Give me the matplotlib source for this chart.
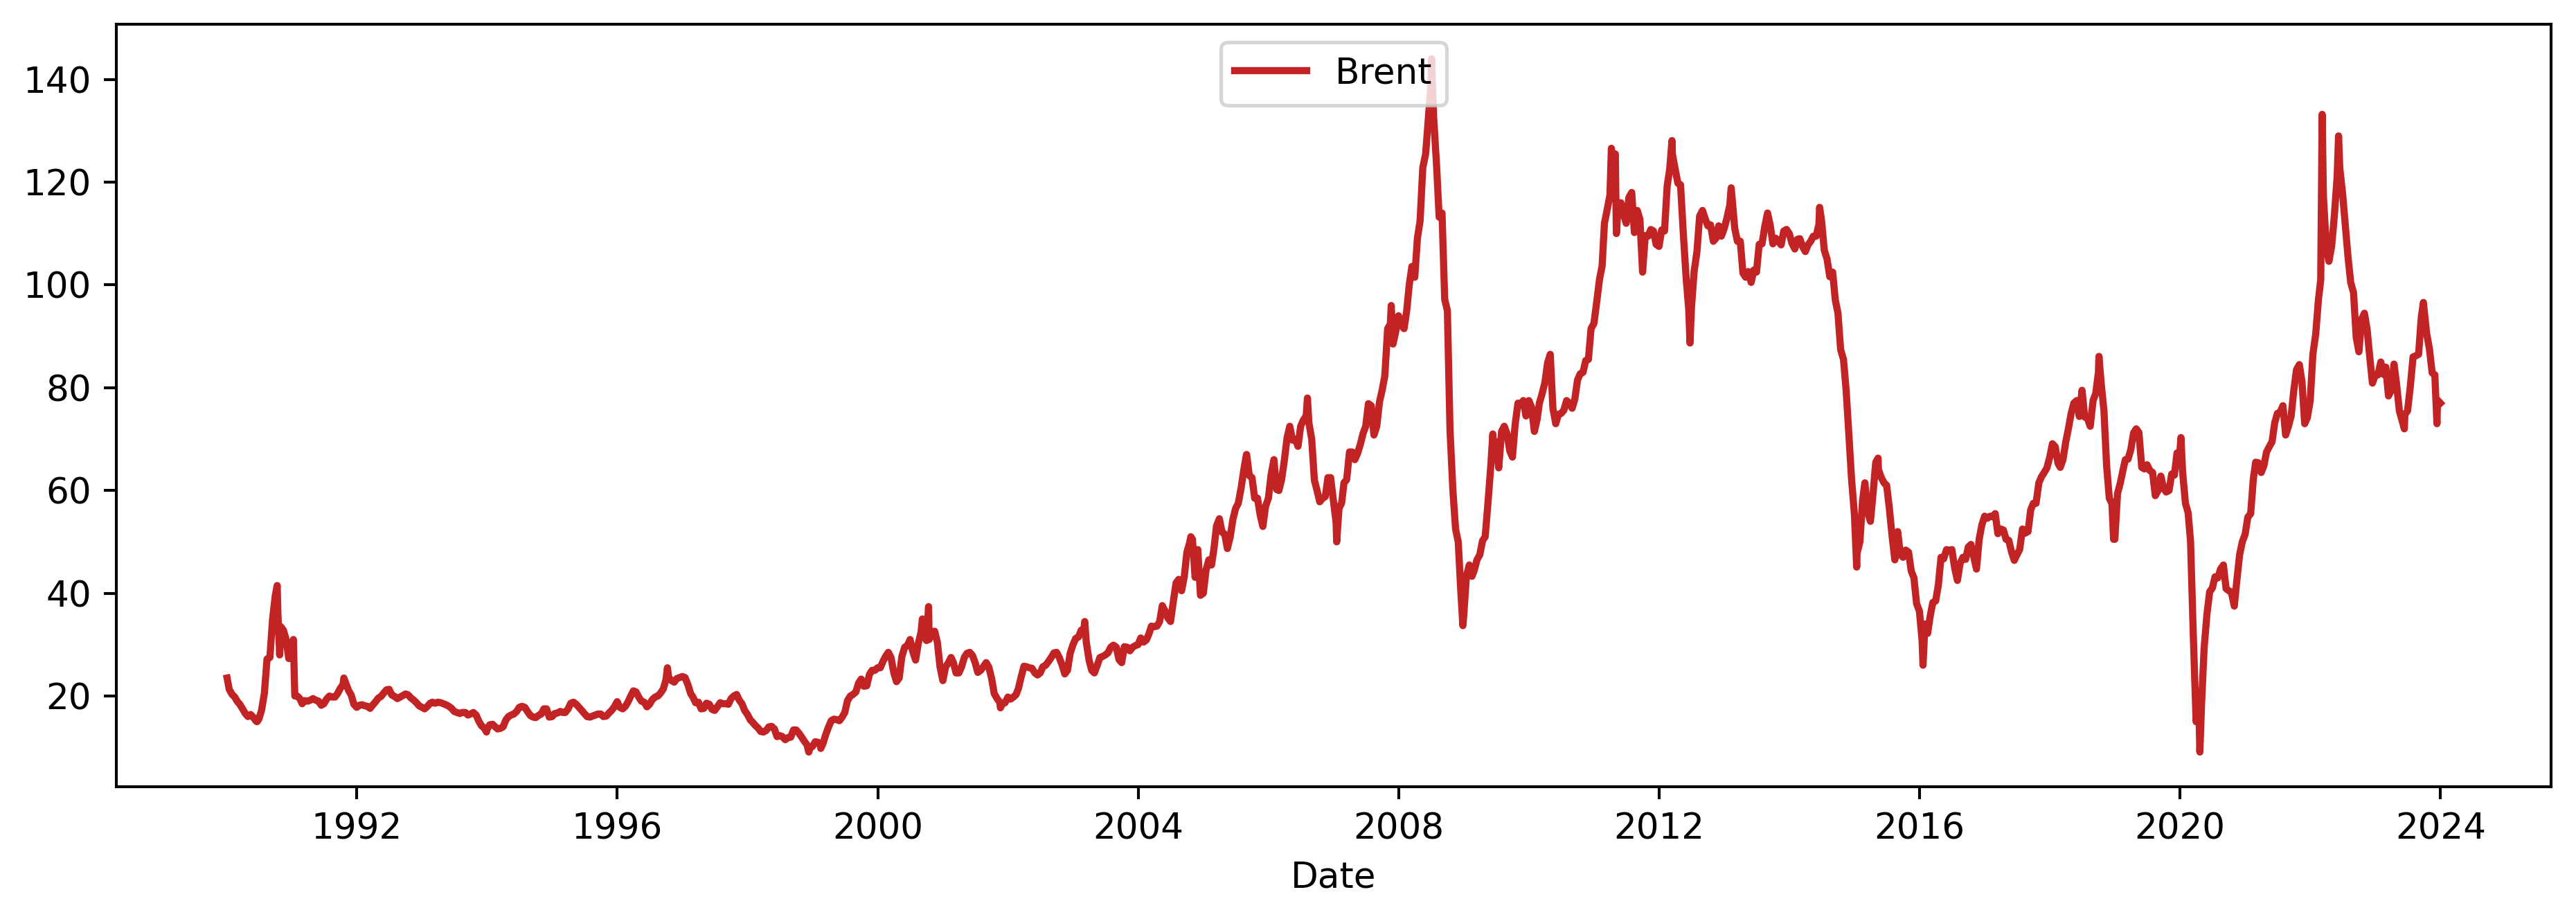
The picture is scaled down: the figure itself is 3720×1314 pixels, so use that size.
import numpy as np
import pandas as pd
import matplotlib
matplotlib.use("Agg")
import matplotlib.pyplot as plt
import matplotlib.dates as mdates

# Brent price, USD/bbl - mid-month levels (Jan..Dec per year)
years = list(range(1990, 2024))
brent_mid = [
    [21.3, 19.8, 18.4, 16.6, 16.4, 15.1, 17.2, 27.2, 34.9, 36.0, 32.8, 27.3],  # 1990
    [23.6, 19.5, 19.1, 19.2, 19.2, 18.2, 19.4, 19.8, 20.5, 22.2, 21.1, 18.4],  # 1991
    [18.2, 18.1, 17.6, 18.9, 19.9, 21.2, 20.2, 19.5, 20.1, 20.2, 19.2, 18.1],  # 1992
    [17.5, 18.6, 18.6, 18.7, 18.3, 17.6, 16.8, 16.8, 16.3, 16.8, 15.1, 13.8],  # 1993
    [14.4, 14.0, 13.7, 15.3, 16.3, 17.0, 18.0, 17.0, 15.9, 16.2, 17.5, 15.9],  # 1994
    [16.6, 17.0, 16.8, 18.6, 18.4, 17.2, 16.0, 16.1, 16.5, 16.0, 16.7, 17.9],  # 1995
    [17.8, 18.0, 19.9, 20.8, 19.0, 17.9, 19.3, 20.0, 21.4, 23.6, 22.7, 23.6],  # 1996
    [23.6, 20.5, 18.7, 17.5, 18.6, 17.4, 17.9, 18.5, 18.4, 20.0, 19.2, 17.2],  # 1997
    [15.4, 14.2, 13.1, 13.3, 14.1, 12.1, 12.1, 11.9, 13.4, 12.8, 11.2, 9.8],   # 1998
    [11.1, 10.3, 12.5, 15.2, 15.4, 15.9, 19.1, 20.3, 22.5, 21.9, 24.2, 25.0],  # 1999
    [25.5, 27.8, 27.5, 22.8, 27.7, 29.8, 28.7, 30.2, 33.1, 31.0, 32.6, 25.7],  # 2000
    [25.6, 27.5, 24.5, 25.7, 28.3, 27.9, 24.6, 25.7, 25.6, 20.5, 18.8, 18.7],  # 2001
    [19.4, 20.3, 23.7, 25.7, 25.4, 24.1, 25.7, 26.7, 28.4, 27.5, 24.3, 28.3],  # 2002
    [31.2, 32.8, 30.6, 25.0, 25.9, 27.7, 28.4, 29.9, 27.1, 29.6, 28.8, 29.8],  # 2003
    [31.3, 30.9, 33.6, 33.6, 37.6, 35.2, 38.2, 42.7, 43.2, 49.8, 43.1, 39.6],  # 2004
    [44.5, 45.5, 53.1, 51.9, 48.7, 54.4, 57.5, 64.0, 62.9, 58.5, 55.2, 56.9],  # 2005
    [63.0, 60.2, 62.1, 70.3, 69.8, 68.6, 73.7, 73.2, 62.0, 57.8, 58.8, 62.5],  # 2006
    [53.7, 57.6, 62.1, 67.5, 67.2, 71.1, 76.9, 70.8, 77.2, 82.3, 92.4, 90.9],  # 2007
    [92.2, 95.0, 103.6, 109.1, 122.8, 132.3, 132.7, 113.2, 97.2, 71.6, 52.5, 40.0],  # 2008
    [43.4, 43.3, 46.5, 50.2, 57.3, 68.6, 64.4, 72.5, 67.7, 72.8, 76.7, 74.5],  # 2009
    [76.2, 73.8, 78.8, 84.8, 76.0, 74.8, 75.6, 77.0, 77.8, 82.7, 85.3, 91.5],  # 2010
    [96.5, 103.7, 114.6, 123.3, 115.0, 113.8, 117.0, 110.2, 112.8, 109.6, 110.8, 107.9],  # 2011
    [110.7, 119.3, 125.5, 119.8, 110.3, 95.2, 102.6, 113.4, 112.9, 111.7, 109.1, 109.5],  # 2012
    [113.0, 116.1, 108.5, 102.3, 102.6, 102.9, 107.9, 111.3, 111.6, 109.1, 107.8, 110.8],  # 2013
    [108.1, 108.9, 107.5, 107.8, 109.5, 111.8, 106.8, 101.6, 97.1, 87.4, 79.4, 62.3],  # 2014
    [47.8, 58.1, 55.9, 59.5, 64.1, 61.5, 56.6, 46.5, 47.6, 48.4, 44.3, 38.0],  # 2015
    [30.7, 32.2, 38.2, 41.6, 46.7, 48.3, 45.0, 45.8, 46.6, 49.5, 44.7, 53.3],  # 2016
    [54.6, 54.9, 51.6, 52.3, 50.3, 46.4, 48.5, 51.7, 56.2, 57.5, 62.7, 64.4],  # 2017
    [69.1, 65.3, 66.0, 72.1, 77.0, 74.4, 74.3, 72.5, 78.9, 81.0, 64.8, 57.4],  # 2018
    [59.4, 64.0, 66.1, 71.2, 71.3, 64.2, 63.9, 59.0, 62.8, 59.7, 63.2, 67.3],  # 2019
    [63.7, 55.7, 32.0, 18.4, 29.4, 40.3, 43.2, 44.7, 40.9, 40.2, 42.7, 50.0],  # 2020
    [54.8, 62.3, 65.4, 64.8, 68.5, 73.2, 75.2, 70.8, 74.5, 83.5, 81.1, 74.2],  # 2021
    [86.5, 97.1, 117.3, 104.6, 113.3, 122.7, 111.9, 100.5, 89.8, 93.3, 91.4, 80.9],  # 2022
    [82.5, 82.6, 78.4, 84.6, 75.5, 74.8, 80.1, 86.2, 93.7, 90.6, 82.9, 77.6],  # 2023
]

# month-end levels (Jan..Dec per year)
brent_end = [
    [20.3, 19.0, 17.5, 16.0, 15.8, 15.5, 20.5, 27.5, 39.5, 33.5, 31.0, 27.5],  # 1990
    [20.0, 18.5, 19.0, 19.5, 19.0, 18.5, 20.0, 19.8, 21.5, 22.5, 20.2, 17.8],  # 1991
    [18.3, 18.0, 18.3, 19.6, 20.6, 21.3, 19.9, 19.8, 20.4, 19.6, 18.7, 17.8],  # 1992
    [18.0, 18.8, 18.8, 18.5, 18.0, 17.0, 16.6, 16.8, 16.5, 16.3, 14.2, 13.5],  # 1993
    [14.5, 13.6, 14.0, 16.0, 16.5, 17.8, 17.8, 16.2, 15.8, 16.5, 17.5, 16.0],  # 1994
    [16.7, 16.8, 17.5, 18.8, 17.8, 16.6, 15.9, 16.3, 16.5, 16.1, 17.2, 18.9],  # 1995
    [17.5, 18.8, 21.0, 19.8, 18.8, 18.4, 19.8, 20.6, 23.2, 23.0, 23.4, 23.8],  # 1996
    [22.2, 19.8, 18.8, 17.6, 18.4, 17.2, 18.7, 18.5, 19.5, 20.3, 18.5, 16.4],  # 1997
    [14.8, 13.8, 13.0, 14.0, 13.6, 12.3, 11.5, 12.0, 13.4, 12.0, 10.5, 10.2],  # 1998
    [11.0, 10.8, 14.0, 15.5, 15.2, 16.8, 20.0, 20.8, 23.3, 22.0, 25.0, 25.5],  # 1999
    [26.8, 28.5, 24.5, 23.5, 29.5, 31.0, 27.0, 32.5, 30.8, 32.5, 30.5, 23.0],  # 2000
    [26.5, 26.5, 24.5, 27.5, 28.5, 26.5, 25.0, 26.5, 23.5, 19.5, 18.5, 19.8],  # 2001
    [19.8, 21.5, 25.8, 25.5, 24.5, 24.5, 26.0, 27.5, 28.5, 26.0, 25.0, 30.0],  # 2002
    [31.5, 32.5, 27.0, 24.5, 27.5, 28.0, 29.5, 29.5, 26.5, 29.5, 29.5, 30.0],  # 2003
    [30.5, 32.0, 33.5, 34.5, 36.5, 34.5, 42.0, 40.5, 48.0, 50.5, 48.5, 40.0],  # 2004
    [46.5, 48.5, 54.5, 51.5, 51.0, 56.5, 60.5, 67.0, 62.5, 58.5, 53.0, 58.5],  # 2005
    [66.0, 60.0, 66.0, 72.5, 70.0, 72.5, 74.5, 70.0, 60.0, 58.5, 62.5, 58.0],  # 2006
    [56.5, 61.5, 67.5, 66.0, 69.0, 72.5, 76.5, 72.5, 79.5, 91.5, 88.5, 94.0],  # 2007
    [91.5, 100.0, 101.5, 112.5, 125.5, 139.0, 123.5, 114.0, 95.0, 60.0, 50.0, 35.8],  # 2008
    [45.5, 44.5, 47.5, 51.0, 64.5, 69.5, 71.5, 71.0, 66.5, 77.0, 77.5, 77.5],  # 2009
    [71.5, 77.0, 81.0, 86.5, 73.0, 75.0, 77.5, 76.0, 81.5, 83.0, 85.5, 92.5],  # 2010
    [101.0, 112.0, 117.5, 125.5, 116.0, 112.0, 118.0, 114.5, 102.5, 109.5, 110.5, 107.5],  # 2011
    [110.5, 122.5, 122.5, 119.5, 101.5, 95.5, 106.5, 114.5, 111.5, 108.5, 111.5, 111.0],  # 2012
    [115.5, 111.0, 108.5, 101.5, 100.5, 102.5, 108.0, 114.0, 108.0, 108.5, 110.5, 110.0],  # 2013
    [107.0, 109.0, 106.5, 108.5, 109.5, 112.5, 105.0, 102.5, 94.5, 85.5, 71.0, 55.5],  # 2014
    [50.0, 61.5, 54.0, 65.5, 62.5, 61.0, 51.0, 52.0, 47.0, 48.0, 43.0, 36.5],  # 2015
    [34.0, 35.5, 38.5, 47.0, 48.5, 48.5, 42.5, 47.0, 49.0, 47.0, 50.5, 55.0],  # 2016
    [55.0, 55.5, 52.5, 50.5, 48.0, 47.5, 52.5, 52.0, 57.5, 61.5, 63.5, 66.5],  # 2017
    [68.5, 64.5, 69.5, 75.0, 77.5, 79.5, 74.0, 77.5, 83.0, 75.5, 58.5, 50.5],  # 2018
    [61.5, 66.0, 68.0, 72.0, 64.5, 65.0, 63.5, 60.0, 60.5, 60.0, 63.0, 67.5],  # 2019
    [57.5, 50.0, 15.0, 18.0, 36.0, 41.0, 43.0, 45.5, 40.5, 37.5, 47.5, 51.5],  # 2020
    [55.5, 65.5, 63.5, 67.5, 69.5, 75.0, 76.5, 72.5, 79.5, 84.5, 73.0, 77.5],  # 2021
    [90.5, 101.0, 107.5, 107.5, 121.0, 118.0, 105.5, 98.5, 87.0, 94.5, 86.0, 82.5],  # 2022
    [85.0, 84.0, 79.5, 80.5, 73.5, 75.5, 86.0, 86.5, 95.5, 87.5, 82.5, 77.0],  # 2023
]

# daily highs / lows that stand out on the chart
spike_dates = [
    "1990-01-03", "1990-06-20", "1990-10-11", "1990-10-25", "1991-01-10", "1991-01-18",
    "1991-10-20", "1993-12-28", "1996-10-08", "1998-12-10", "1999-02-15",
    "2000-09-07", "2000-10-12", "2001-11-19", "2003-03-07", "2004-10-22",
    "2005-08-30", "2006-08-07", "2007-01-18", "2007-11-20", "2008-07-03",
    "2008-12-26", "2009-06-12", "2011-04-08", "2011-05-06", "2012-03-13",
    "2012-06-22", "2013-02-08", "2014-06-19", "2015-01-13", "2015-05-13",
    "2016-01-20", "2018-10-03", "2018-12-24", "2020-01-06", "2020-04-21",
    "2022-03-08", "2022-06-08", "2023-06-12", "2023-09-27", "2023-12-12",
]
spike_values = [
    23.5, 15.0, 41.5, 28.0, 31.0, 20.0,
    23.5, 13.0, 25.5, 9.1, 9.8,
    35.0, 37.4, 17.7, 34.5, 51.0,
    67.0, 78.0, 50.0, 96.0, 144.0,
    33.7, 71.0, 126.6, 110.0, 128.1,
    88.7, 118.9, 115.1, 45.1, 66.3,
    26.0, 86.1, 50.5, 70.3, 9.1,
    133.2, 129.0, 72.0, 96.6, 73.0,
]

n = len(years) * 12
month_start = pd.date_range("1990-01-01", periods=n, freq="MS")
mid_dates = month_start + pd.Timedelta(days=14)
end_dates = month_start + pd.offsets.MonthEnd(0)

series = pd.concat([
    pd.Series(np.array(brent_mid).ravel(), index=mid_dates),
    pd.Series(np.array(brent_end).ravel(), index=end_dates),
    pd.Series(spike_values, index=pd.to_datetime(spike_dates)),
]).sort_index()

fig, ax = plt.subplots(figsize=(3720 / 372, 1314 / 372), dpi=372)
fig.subplots_adjust(left=0.0452, right=0.9903, top=0.9734, bottom=0.1355)

ax.plot(series.index, series.values, color="#c22324", lw=2.0, label="Brent")
ax.xaxis.set_major_locator(mdates.YearLocator(4))
ax.xaxis.set_major_formatter(mdates.DateFormatter("%Y"))
ax.set_xlabel("Date")
ax.legend(loc="upper center")

fig.savefig("out.png", dpi=372)
